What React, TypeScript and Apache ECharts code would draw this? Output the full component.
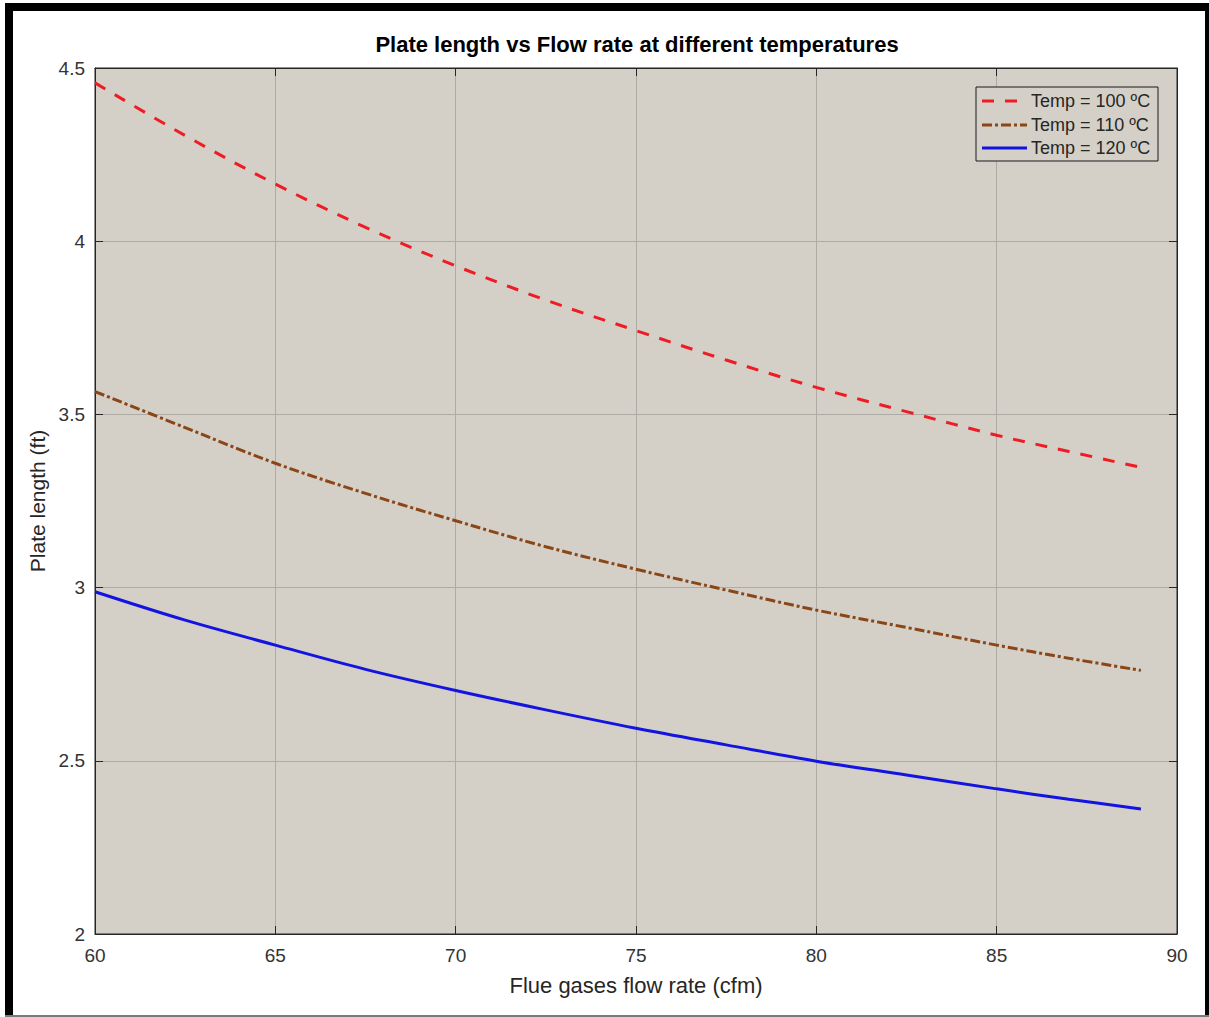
import React, { useEffect, useRef } from 'react';
import * as echarts from 'echarts';

const flowRate = [60, 62.5, 65, 67.5, 70, 72.5, 75, 77.5, 80, 82.5, 85, 87, 89];
const temp100 = [4.457, 4.305, 4.165, 4.040, 3.929, 3.830, 3.742, 3.657, 3.578, 3.508, 3.440, 3.393, 3.347];
const temp110 = [3.566, 3.462, 3.359, 3.272, 3.193, 3.118, 3.053, 2.993, 2.935, 2.885, 2.834, 2.796, 2.761];
const temp120 = [2.988, 2.906, 2.834, 2.764, 2.703, 2.647, 2.594, 2.546, 2.499, 2.459, 2.419, 2.389, 2.361];
const seriesNames = ['Temp = 100 ºC', 'Temp = 110 ºC', 'Temp = 120 ºC'];
const seriesColors = ['#ee1c24', '#8a4616', '#1414e0'];
const seriesDash: any[] = [[12, 11], [10, 3, 3, 3], 'solid'];
const titleText = 'Plate length vs Flow rate at different temperatures';
const xName = 'Flue gases flow rate (cfm)';
const yName = 'Plate length (ft)';

const FONT = '"Liberation Sans", Arial, Helvetica, sans-serif';
const AXIS = '#262626';
const GRIDC = '#aeaba5';
const BG = '#d4d0c8';

export default function App() {
  const ref = useRef<HTMLDivElement>(null);
  useEffect(() => {
    if (!ref.current) return;
    const chart = echarts.init(ref.current, undefined, { renderer: 'svg' });
    const allData = [temp100, temp110, temp120];
    const series = allData.map((vals, i) => ({
      name: seriesNames[i],
      type: 'line',
      data: flowRate.map((x, j) => [x, vals[j]]),
      symbol: 'none',
      smooth: 0.35,
      lineStyle: { color: seriesColors[i], width: 3, type: seriesDash[i] },
      itemStyle: { color: seriesColors[i] },
      z: 5,
    }));

    const legendX = 976, legendY = 87, legendW = 182, legendH = 74;
    const rowY = [101, 125, 148];
    const legendEls: any[] = [
      {
        type: 'rect',
        shape: { x: legendX, y: legendY, width: legendW, height: legendH },
        style: { fill: BG, stroke: '#1a1a1a', lineWidth: 1 },
        z: 50,
      },
    ];
    seriesNames.forEach((n, i) => {
      legendEls.push({
        type: 'line',
        shape: { x1: 982, y1: rowY[i], x2: 1027, y2: rowY[i] },
        style: {
          stroke: seriesColors[i],
          lineWidth: 3,
          lineDash: Array.isArray(seriesDash[i]) ? seriesDash[i] : null,
        },
        z: 51,
      });
      legendEls.push({
        type: 'text',
        x: 1031,
        y: rowY[i],
        style: {
          text: n,
          fill: AXIS,
          font: `18px ${FONT}`,
          textAlign: 'left',
          textVerticalAlign: 'middle',
        },
        z: 51,
      });
    });

    const frame: any[] = [
      { type: 'rect', shape: { x: 5, y: 3, width: 1204, height: 8 }, style: { fill: '#000' }, z: 100 },
      { type: 'rect', shape: { x: 5, y: 3, width: 8, height: 1013 }, style: { fill: '#000' }, z: 100 },
      { type: 'rect', shape: { x: 1205, y: 3, width: 4, height: 1013 }, style: { fill: '#000' }, z: 100 },
      { type: 'rect', shape: { x: 5, y: 1015, width: 1204, height: 2 }, style: { fill: '#7a7a7a' }, z: 100 },
    ];

    const baseX = {
      type: 'value',
      min: 60,
      max: 90,
      interval: 5,
      axisLine: { show: true, onZero: false, lineStyle: { color: AXIS, width: 1 } },
      axisTick: { show: true, inside: true, length: 8, lineStyle: { color: AXIS, width: 1 } },
    };
    const baseY = {
      type: 'value',
      min: 2,
      max: 4.5,
      interval: 0.5,
      axisLine: { show: true, onZero: false, lineStyle: { color: AXIS, width: 1 } },
      axisTick: { show: true, inside: true, length: 8, lineStyle: { color: AXIS, width: 1 } },
    };

    chart.setOption({
      animation: false,
      backgroundColor: '#ffffff',
      textStyle: { fontFamily: FONT },
      grid: {
        left: 95,
        top: 68,
        width: 1082,
        height: 866,
        show: true,
        backgroundColor: BG,
        borderColor: AXIS,
        borderWidth: 1,
        containLabel: false,
      },
      xAxis: [
        {
          ...baseX,
          position: 'bottom',
          axisLabel: { fontSize: 19, color: '#333333', margin: 12, fontFamily: FONT },
          splitLine: { show: true, lineStyle: { color: GRIDC, width: 1 } },
          name: xName,
          nameLocation: 'middle',
          nameGap: 40,
          nameTextStyle: { fontSize: 22, color: AXIS, fontFamily: FONT },
        },
        {
          ...baseX,
          position: 'top',
          axisLabel: { show: false },
          splitLine: { show: false },
        },
      ],
      yAxis: [
        {
          ...baseY,
          position: 'left',
          axisLabel: { fontSize: 19, color: '#333333', margin: 10, fontFamily: FONT },
          splitLine: { show: true, lineStyle: { color: GRIDC, width: 1 } },
          name: yName,
          nameLocation: 'middle',
          nameGap: 42,
          nameRotate: 90,
          nameTextStyle: { fontSize: 21, color: AXIS, fontFamily: FONT },
        },
        {
          ...baseY,
          position: 'right',
          axisLabel: { show: false },
          splitLine: { show: false },
        },
      ],
      series,
      graphic: [
        {
          type: 'text',
          x: 637,
          y: 44,
          style: {
            text: titleText,
            fill: '#000000',
            font: `bold 22px ${FONT}`,
            textAlign: 'center',
            textVerticalAlign: 'middle',
          },
          z: 60,
        },
        ...legendEls,
        ...frame,
      ],
    });
    return () => chart.dispose();
  }, []);
  return (
    <div
      ref={ref}
      style={{ position: 'absolute', left: 0, top: 0, width: 1209, height: 1017 }}
    />
  );
}
